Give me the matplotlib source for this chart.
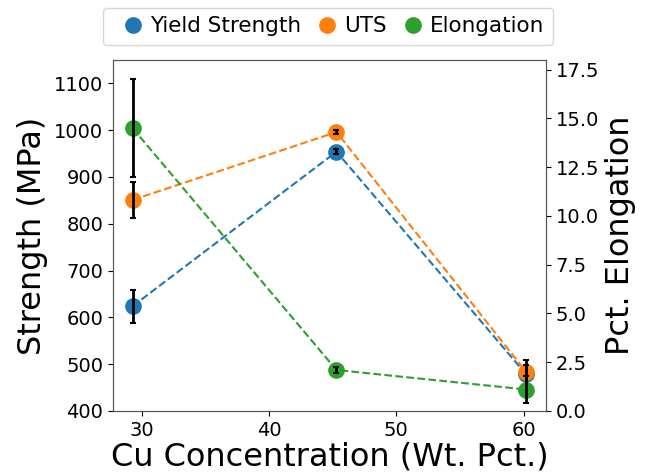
import matplotlib
matplotlib.use('Agg')
import matplotlib.pyplot as plt
from matplotlib.lines import Line2D

# Cu content of the three alloys (wt. %)
cu_pct = [29.3, 45.3, 60.2]

# Tensile results, MPa
yield_strength = [624, 954, 478]
yield_err = [35, 5, 20]
uts = [851, 996, 483]
uts_err = [38, 5, 26]

# Elongation at failure, %
elongation = [14.5, 2.1, 1.1]
elong_err = [2.5, 0.15, 0.7]

labels = ['Yield Strength', 'UTS', 'Elongation']
colors = ['#1f77b4', '#ff7f0e', '#2ca02c']

fig = plt.figure(figsize=(6.52, 4.76), dpi=100)
ax = fig.add_axes([0.1733, 0.1366, 0.6641, 0.7374])
ax2 = ax.twinx()

style = dict(fmt='o--', ms=11, lw=1.5, ecolor='k', elinewidth=2,
             capsize=2.5, capthick=1.5, barsabove=True)
ax.errorbar(cu_pct, yield_strength, yerr=yield_err, color=colors[0], **style)
ax.errorbar(cu_pct, uts, yerr=uts_err, color=colors[1], **style)
ax2.errorbar(cu_pct, elongation, yerr=elong_err, color=colors[2], **style)

ax.set_ylim(400, 1150)
ax2.set_ylim(0, 18)
ax.set_xticks([30, 40, 50, 60])
ax2.set_yticks([0, 2.5, 5, 7.5, 10, 12.5, 15, 17.5])

ax.set_xlabel('Cu Concentration (Wt. Pct.)', fontsize=23, labelpad=1)
ax.set_ylabel('Strength (MPa)', fontsize=23)
ax2.set_ylabel('Pct. Elongation', fontsize=23)
ax.tick_params(labelsize=14)
ax2.tick_params(labelsize=14)

for a in (ax, ax2):
    for sp in a.spines.values():
        sp.set_color('#555555')

handles = [Line2D([], [], marker='o', ls='none', ms=11, color=c) for c in colors]
fig.legend(handles, labels, loc='upper center', bbox_to_anchor=(0.503, 0.984),
           borderaxespad=0, ncol=3, fontsize=15.5, handlelength=2.0,
           handletextpad=-0.2, columnspacing=0.2)

fig.savefig('out.png', dpi=100)
